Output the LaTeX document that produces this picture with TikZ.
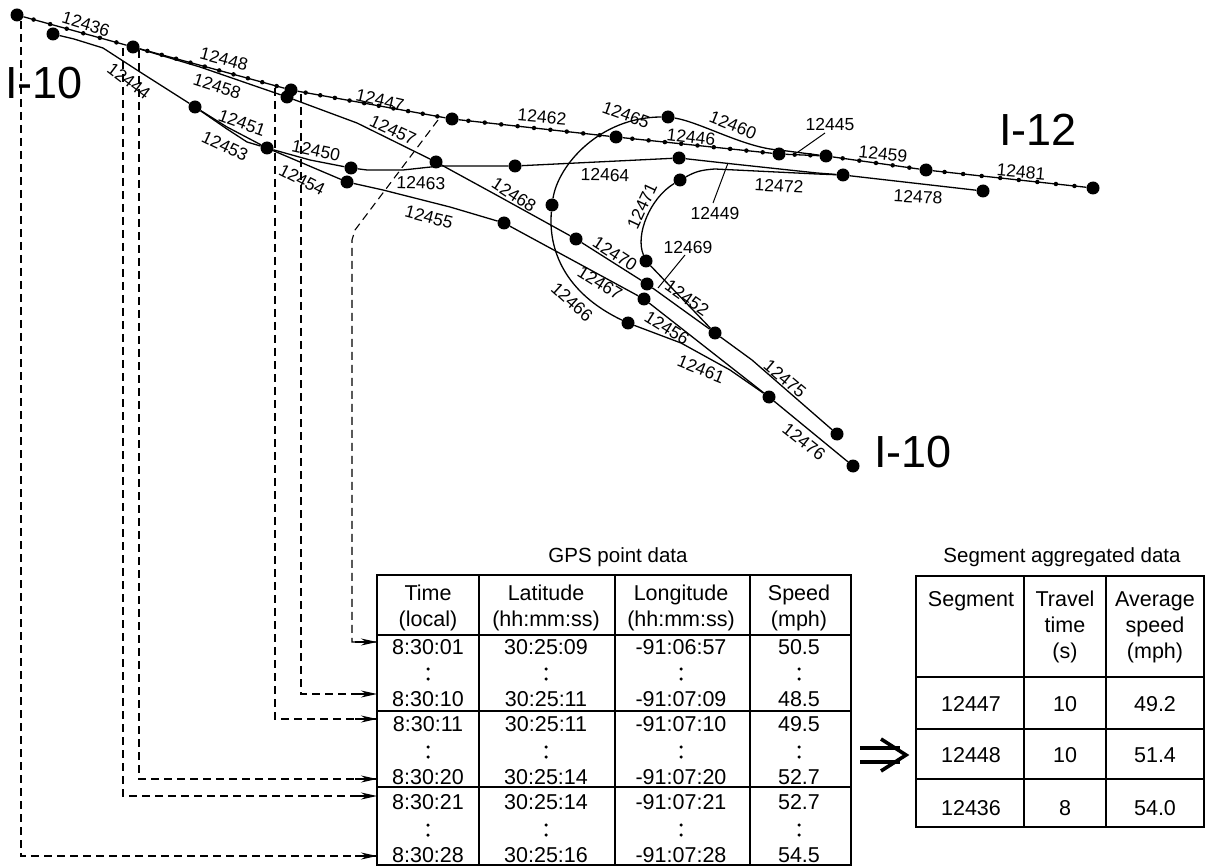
\documentclass[tikz,border=0pt]{standalone}
\usepackage{fontspec}
\setmainfont{Liberation Sans}
\usetikzlibrary{arrows.meta,calc}
\tikzset{
 x=1pt,y=-1pt,
 big/.style={circle,fill=black,inner sep=0pt,minimum size=13pt},
 small/.style={circle,fill=black,inner sep=0pt,minimum size=4.5pt},
 road/.style={line width=1.3pt,line join=round},
 lbl/.style={font=\fontsize{17.5}{18}\selectfont,inner sep=0pt},
 title/.style={font=\fontsize{45}{45}\selectfont,inner sep=0pt},
 cell/.style={font=\fontsize{21.5}{26}\selectfont,inner sep=0pt,align=center},
 capt/.style={font=\fontsize{20.5}{22}\selectfont,inner sep=0pt},
 link/.style={dash pattern=on 8pt off 5pt,line width=1.1pt},
 lead/.style={-{Stealth[length=16pt,width=7pt]},line width=1.2pt},
 frame/.style={line width=1.2pt},
 rule/.style={line width=1.8pt},
 ddot/.style={circle,fill=black,inner sep=0pt,minimum size=3.5pt},
}
\newcommand{\vdotsat}[2]{\node[ddot] (v#1a#2) at (#1,#2) {};\node[ddot] (v#1b#2) at (#1,#2+10) {};}
\begin{document}
\begin{tikzpicture}
\useasboundingbox (0,0) rectangle (1212,866);
\fill[white] (0,0) rectangle (1212,866);
% nodes
\foreach \n/\x/\y in {a/17/15,b/133/47,c/291/90,d/452/119,e/616/137,f/779/154,g/826/156,h/926/170,i/1093/188,
 j/53/34,k/195/107,l/267/148,m/287/97,n/347/182,o/351/168,p/436/162,q/504/223,r/515/166,s/679/158,t/843/175,u/983/191,
 v/576/239,w/647/284,x/715/333,y/837/434,z/644/299,aa/769/397,ab/853/466,ac/628/323,ad/552/205,ae/668/117,af/680/180,ag/646/261}
 {\node[big] (\n) at (\x,\y) {};}
% I-12 main
\draw[road] (a)--(b)--(c)--(d)--(e)--(f)--(g)--(h)--(i);
\foreach \p/\q/\cnt in {a/b/6,b/c/10,c/d/10,d/e/9,e/f/9,f/g/2,g/h/5,h/i/8}
 {\foreach \k in {1,...,\cnt}
   {\pgfmathsetmacro{\fr}{\k/(\cnt+1)}
    \node[small] (s\p\k) at ($(\p)!\fr!(\q)$) {};}}
% I-10 lines
\draw[road] (j) -- (74,39) -- (103,48) -- (140,72) -- (k);
\draw[road] (k) -- (227,127) -- (l);
\draw[road] (k) -- (227,129) -- (247,142) -- (l);
\draw[road] (l) -- (310,160) -- (o);
\draw[road] (l) -- (n);
\draw[road] (b) -- (200,67) -- (m);
\draw[road] (m) -- (357,123) -- (p);
\draw[road] (o) -- (367,170) -- (403,170) -- (440,166) -- (r);
\draw[road] (r) -- (s);
\draw[road] (s) -- (733,164) -- (817,173) -- (t) -- (u);
\draw[road] (n) -- (383,190) -- (450,207) -- (q);
\draw[road] (q) -- (z);
\draw[road] (z) -- (aa);
\draw[road] (p) -- (500,197) -- (v) -- (w) -- (x) -- (752,360) -- (y);
\draw[road] (aa) -- (ab);
\draw[road] (ac) -- (681,343) -- (730,370) -- (aa);
\draw[road] (ad) .. controls (548,250) and (565,293) .. (ac);
\draw[road] (ad) .. controls (558,165) and (600,117) .. (ae);
\draw[road] (ae) .. controls (700,122) and (745,148) .. (779,150) -- (g);
\draw[road] (af) .. controls (695,172) and (700,170) .. (715,169) -- (817,174) -- (t);
\draw[road] (af) .. controls (650,198) and (635,235) .. (ag);
\draw[road] (ag) -- (x);
% leaders
\coordinate (l49) at (713,203); \coordinate (l49b) at (728,163);
\coordinate (l69) at (685,255); \coordinate (l69b) at (658,288);
\coordinate (l45) at (825,133); \coordinate (l45b) at (798,152);
\draw[line width=1pt] (l49)--(l49b) (l69)--(l69b) (l45)--(l45b);
% road labels
\foreach \t/\x/\y/\r in {12436/86/24/-17,12448/224/59/-15,12458/217/86/-18,12447/380/100/-13,12457/393/130/-25,12444/129/81/-37,
 12451/242/123/-20,12453/225/146/-25,12450/316/151/-12,12454/302/180/-27,12463/421/183/-2,12455/429/217/-15,
 12468/514/195/-33,12462/542/117/-5,12465/626/115/-20,12460/733/125/-22,12446/691/137/-7,12445/830/124/0,12459/883/154/-6,12481/1021/172/-5,
 12464/605/175/-1,12472/779/186/-3,12478/918/197/-3,12449/715/213/0,12471/642/206/65,12469/688/247/0,12470/615/254/-33,12452/687/298/-35,12467/600/283/-32,12466/572/302/-42,12456/667/328/-32,12461/701/369/-22,12475/785/379/-40,12476/804/442/-38}
 {\node[lbl,rotate=\r] (t\t) at (\x,\y) {\t};}
\node[title,anchor=west] (i10a) at (5,83) {I-10};
\node[title,anchor=west] (i12) at (999,130) {I-12};
\node[title,anchor=west] (i10b) at (874,452) {I-10};
% GPS table
\node[capt] (gcap) at (618,557) {GPS point data};
\coordinate (tl) at (377,575); \coordinate (br) at (851,865);
\draw[frame] (tl) rectangle (br);
\draw[frame] (479,575)--(479,865) (615,575)--(615,865) (750,575)--(750,865);
\coordinate (r1l) at (377,635); \coordinate (r1r) at (851,635);
\coordinate (r2l) at (377,711); \coordinate (r2r) at (851,711);
\coordinate (r3l) at (377,787); \coordinate (r3r) at (851,787);
\draw[rule] (r1l)--(r1r) (r2l)--(r2r) (r3l)--(r3r);
\foreach \x/\a/\b in {428/Time/(local),546/Latitude/(hh:mm:ss),681/Longitude/(hh:mm:ss),799/Speed/(mph)}
 {\node[cell] (h\a) at (\x,608) {\a\\\b};}
\foreach \x/\a/\b/\c/\d/\e/\f [count=\i] in {
 428/8:30:01/8:30:10/8:30:11/8:30:20/8:30:21/8:30:28,
 546/30:25:09/30:25:11/30:25:11/30:25:14/30:25:14/30:25:16,
 681/-91:06:57/-91:07:09/-91:07:10/-91:07:20/-91:07:21/-91:07:28,
 799/50.5/48.5/49.5/52.7/52.7/54.5}
 {\node[cell] (c\i a) at (\x,647) {\a};
  \node[cell] (c\i b) at (\x,699) {\b};
  \node[cell] (c\i c) at (\x,724) {\c};
  \node[cell] (c\i d) at (\x,777) {\d};
  \node[cell] (c\i e) at (\x,802) {\e};
  \node[cell] (c\i f) at (\x,855) {\f};
  \vdotsat{\x}{669}
  \vdotsat{\x}{747}
  \vdotsat{\x}{825}
 }
% segment table
\node[capt] (scap) at (1062,557) {Segment aggregated data};
\coordinate (stl) at (916,576); \coordinate (sbr) at (1204,827);
\draw[frame] (stl) rectangle (sbr);
\draw[frame] (1024,576)--(1024,827) (1106,576)--(1106,827);
\draw[frame] (916,677)--(1204,677) (916,729)--(1204,729) (916,779)--(1204,779);
\node[cell] (sh1) at (971,601) {Segment};
\node[cell] (sh2) at (1065,627) {Travel\\time\\(s)};
\node[cell] (sh3) at (1155,627) {Average\\speed\\(mph)};
\foreach \a/\b/\c/\y in {12447/10/49.2/704,12448/10/51.4/755,12436/8/54.0/808}
 {\node[cell] (sa\a) at (971,\y) {\a};
  \node[cell] (sb\a) at (1065,\y) {\b};
  \node[cell] (sc\a) at (1155,\y) {\c};}
\coordinate (i1a) at (860,748); \coordinate (i1b) at (900,748);
\coordinate (i2a) at (860,762); \coordinate (i2b) at (900,762);
\coordinate (i3a) at (881,739); \coordinate (i3b) at (906,755); \coordinate (i3c) at (881,771);
\draw[line width=3.6pt] (i1a)--(i1b) (i2a)--(i2b);
\draw[line width=3.6pt,miter limit=10] (i3a)--(i3b)--(i3c);
% dashed links
\coordinate (a0) at (21,21);
\coordinate (a1) at (21,856);\coordinate (a1e) at (377,856);
\coordinate (b0) at (123,48);\coordinate (b1) at (123,796);\coordinate (b1e) at (377,796);
\coordinate (c0) at (139,50);\coordinate (c1) at (139,779);\coordinate (c1e) at (377,779);
\coordinate (d0) at (275,88);\coordinate (d1) at (275,719);\coordinate (d1e) at (377,719);
\coordinate (e0) at (301,94);\coordinate (e1) at (301,694);\coordinate (e1e) at (377,694);
\coordinate (f0) at (438,120);\coordinate (f1) at (355,230);\coordinate (f2) at (352,240);\coordinate (f3) at (352,642);\coordinate (f3e) at (377,642);
\draw[link] (a0)--(a1)--(a1e);
\draw[link] (b0)--(b1)--(b1e);
\draw[link] (c0)--(c1)--(c1e);
\draw[link] (d0)--(d1)--(d1e);
\draw[link] (e0)--(e1)--(e1e);
\draw[link] (f0)--(f1)--(f2)--(f3)--(f3e);
\foreach \q in {a1e,b1e,c1e,d1e,e1e,f3e}
 {\draw[lead] ($(\q)+(-22,0)$) -- (\q);}
\end{tikzpicture}
\end{document}
